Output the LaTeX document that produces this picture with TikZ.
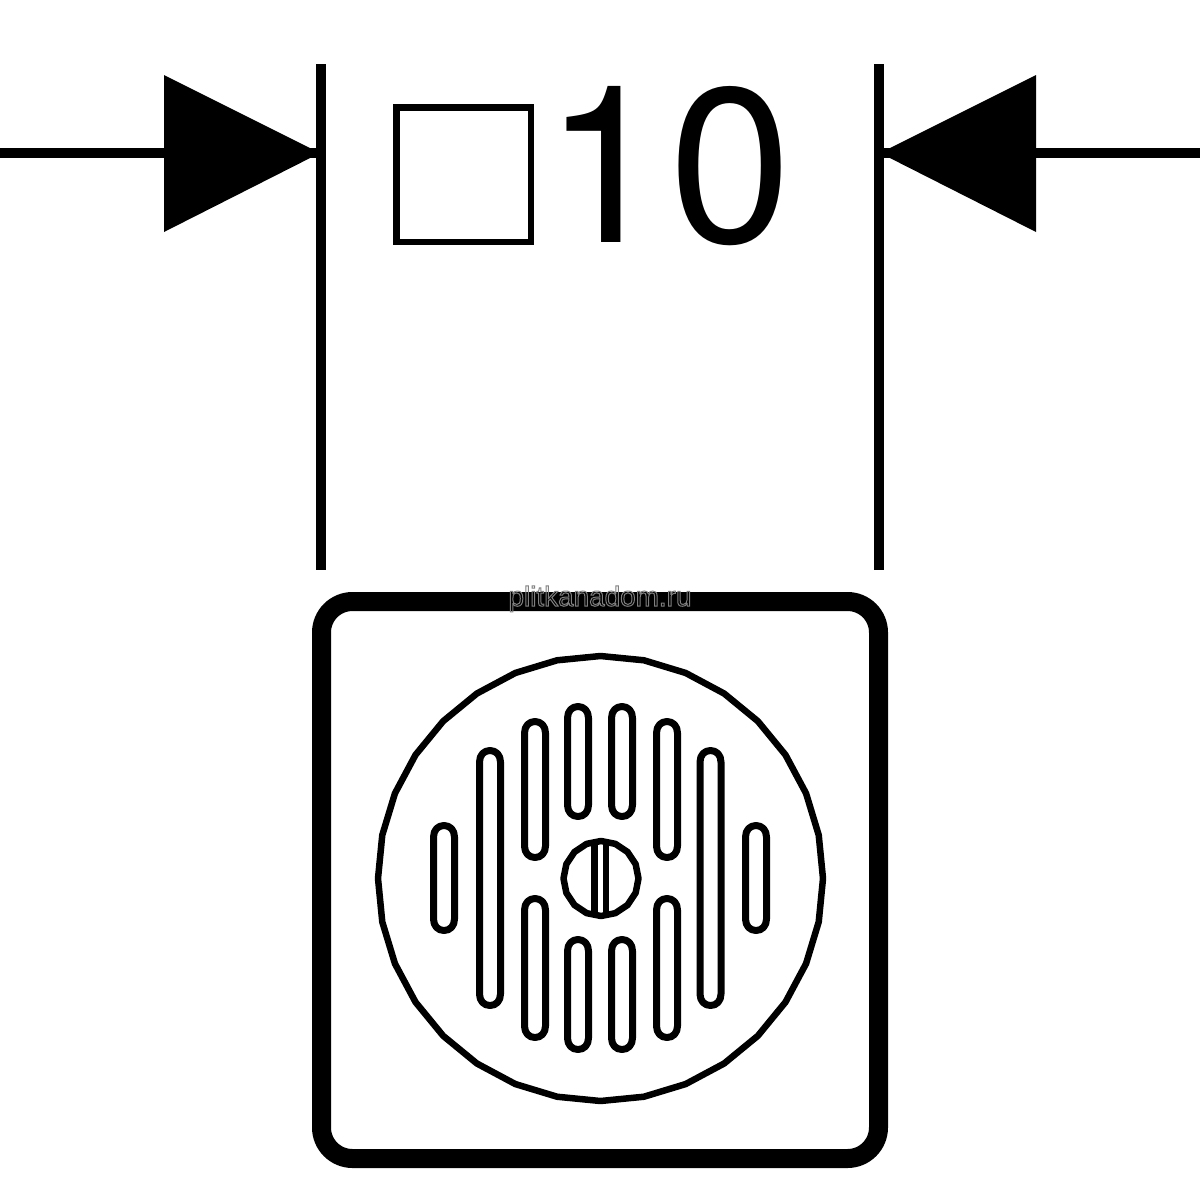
\documentclass[tikz,border=0pt]{standalone}
\usepackage{fontspec}
\setmainfont{TeX Gyre Heros}
\newfontfamily\markfont{Liberation Sans}
\tikzset{
  dimline/.style={line width=9.5bp,line cap=butt},
  tip/.style={fill=black,draw=none},
  slotline/.style={line width=7bp,draw=black,line join=round},
  frame/.style={line width=19bp,draw=black,rounded corners=31bp},
  gridline/.style={line width=6.5bp,draw=black,line join=round},
  sq/.style={line width=6.5bp,draw=black},
  bigtext/.style={inner sep=0pt,font=\fontsize{221}{221}\selectfont},
  marktext/.style={inner sep=0pt,text=black!55,font=\markfont\fontsize{28}{28}\selectfont}
}
% slot: centre x, top, bottom (outer extents)
\newcommand{\drainslot}[3]{%
  \draw[slotline] ({#1-10.5},{#2+15}) .. controls ({#1-10.5},{#2+8}) and ({#1-6},{#2+3.5}) .. ({#1},{#2+3.5})
    .. controls ({#1+6},{#2+3.5}) and ({#1+10.5},{#2+8}) .. ({#1+10.5},{#2+15})
    -- ({#1+10.5},{#3-15}) .. controls ({#1+10.5},{#3-8}) and ({#1+6},{#3-3.5}) .. ({#1},{#3-3.5})
    .. controls ({#1-6},{#3-3.5}) and ({#1-10.5},{#3-8}) .. ({#1-10.5},{#3-15}) -- cycle;}
\begin{document}
\begin{tikzpicture}[x=1bp,y=-1bp]
\useasboundingbox (0,0) rectangle (1200,1200);
\fill[white] (0,0) rectangle (1200,1200);
% extension lines
\coordinate (LT) at (321,64); \coordinate (LB) at (321,570);
\coordinate (RT) at (879,64); \coordinate (RB) at (879,570);
\draw[dimline] (LT) -- (LB);
\draw[dimline] (RT) -- (RB);
% arrows
\coordinate (LS) at (0,153); \coordinate (LE) at (321,153);
\coordinate (RS) at (1200,153); \coordinate (RE) at (879,153);
\draw[dimline] (LS) -- (LE);
\draw[dimline] (RS) -- (RE);
\fill[tip] (164,75) -- (164,232) -- (320,153) -- cycle;
\fill[tip] (1036,75) -- (1036,232) -- (880,153) -- cycle;
% label
\draw[sq] (396.7,107.3) rectangle (530.8,242);
\node[bigtext,anchor=base west] (ten) at (544,242) {1\kern3.5bp 0};
% frame
\draw[frame] (321.5,601.5) rectangle (878.5,1158.5);
\node[marktext,anchor=base] (mark) at (600,606) {\special{pdf:code 1 Tr 1 w 0.5 G}plitkanadom.ru\special{pdf:code 0 Tr}};
% grate
\draw[gridline] (600.5,656)
  \foreach \a in {1,...,31} { -- ({600.5+222.5*sin(\a*11.25)},{878.5-222.5*cos(\a*11.25)}) } -- cycle;
% slots
\drainslot{444}{822}{934}
\drainslot{490}{747}{1009}
\drainslot{535}{718}{861}
\drainslot{535}{895}{1041}
\drainslot{578}{703}{820}
\drainslot{578}{936}{1053}
\drainslot{622}{703}{820}
\drainslot{622}{936}{1053}
\drainslot{667}{718}{861}
\drainslot{667}{895}{1041}
\drainslot{710.5}{747}{1009}
\drainslot{756}{822}{934}
% screw
\draw[gridline] (601,841)
  \foreach \a in {1,...,15} { -- ({601+37.5*sin(\a*22.5)},{878.5-37.5*cos(\a*22.5)}) } -- cycle;
\draw[gridline] (594.5,842) -- (594.5,915);
\draw[gridline] (606,842) -- (606,915);
\end{tikzpicture}
\end{document}
